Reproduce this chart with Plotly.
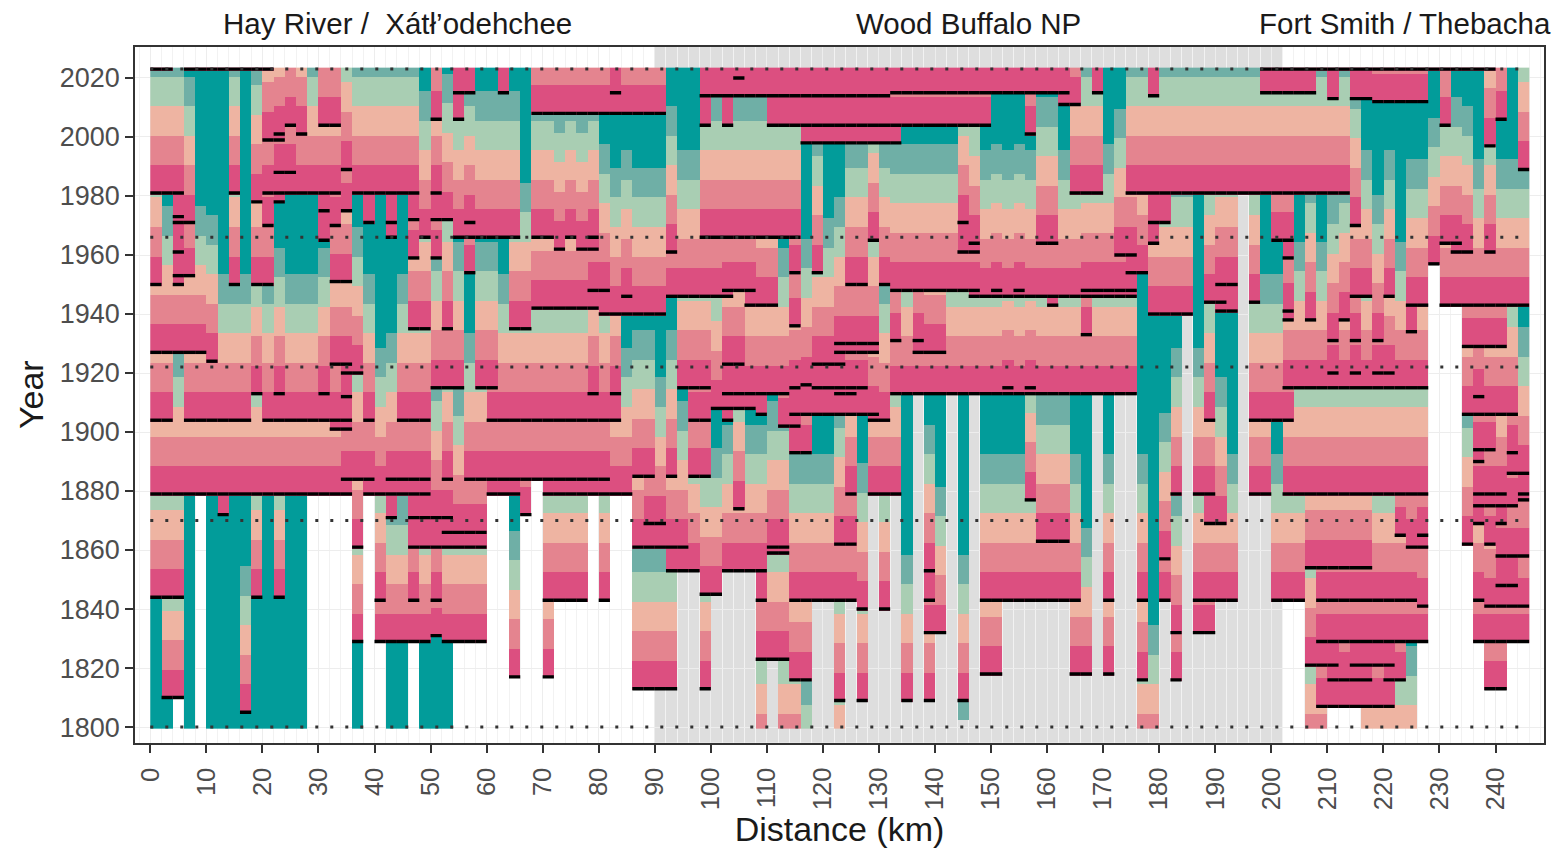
import numpy as np
import plotly.graph_objects as go

# ---- values ----
# fire_years[i]: recorded fire years of the 2-km segment starting at 2*i km
fire_years = [
 [2023,1981,1950,1927,1904,1879,1844],
 [2023,1981,1927,1904,1879,1844,1810],
 [1981,1973,1971,1961,1953,1950,1927,1879,1844,1810],
 [2023,1971,1953,1927,1904,1879],
 [2023,1927,1904,1879],
 [2023,1924,1904,1879],
 [2023,1904,1879,1872],
 [2023,1981,1950,1904,1879],
 [2023,1904,1879,1805],
 [2023,1978,1950,1913,1879,1844],
 [2023,1999,1981,1970,1950,1904,1879],
 [2001,1999,1988,1981,1978,1913,1904,1879,1844],
 [2004,1988,1981,1904,1879],
 [2001,1981,1904,1879],
 [1981,1904,1879],
 [2004,1981,1975,1965,1913,1904,1879],
 [2004,1981,1970,1951,1923,1904,1901,1879],
 [1989,1975,1951,1923,1920,1912,1904,1901,1884,1879],
 [1981,1920,1884,1861,1829],
 [1981,1971,1904,1884,1879],
 [1981,1879,1843,1829],
 [1981,1971,1966,1884,1879,1871,1829],
 [1981,1904,1884,1879,1829],
 [1981,1972,1959,1935,1904,1884,1879,1871,1861,1843,1829],
 [1966,1935,1904,1884,1879,1871,1861,1829],
 [2006,1981,1972,1959,1915,1871,1861,1843,1831],
 [1972,1935,1915,1884,1871,1866,1861,1829],
 [2015,2006,1966,1915,1866,1861,1829],
 [2015,1971,1966,1954,1884,1866,1861,1829],
 [1966,1915,1884,1866,1861,1829],
 [1966,1915,1904,1884,1879],
 [2015,1966,1904,1884,1879],
 [1966,1935,1904,1884,1879,1817],
 [1935,1904,1884,1872],
 [2008,1966,1942,1904,1884],
 [2008,1966,1942,1904,1884,1879,1843,1817],
 [2008,1962,1942,1904,1884,1879,1843],
 [2008,1966,1942,1904,1884,1879,1843],
 [2008,1962,1942,1904,1884,1879,1843],
 [2008,1966,1962,1948,1942,1913,1904,1884,1879],
 [2008,1948,1940,1904,1884,1879,1843],
 [2015,2008,1940,1913,1904,1879],
 [2008,1946,1940,1879],
 [2008,1940,1885,1861,1813],
 [2008,1940,1885,1869,1861,1813],
 [2008,1940,1869,1861,1813],
 [1961,1946,1885,1861,1853,1813],
 [1946,1915,1861,1853],
 [1946,1915,1904,1885,1853],
 [2014,2004,1966,1946,1915,1904,1885,1845,1813],
 [2014,1966,1946,1908,1845],
 [2014,2004,1966,1948,1946,1923,1913,1908,1904,1853],
 [2020,2014,1966,1948,1923,1913,1908,1874,1853],
 [2014,1966,1948,1943,1913,1908,1853],
 [2014,1966,1943,1913,1906,1853,1843,1823,1785],
 [2014,2004,1966,1943,1913,1861,1859,1823],
 [2014,2004,1966,1913,1902,1861,1859,1823,1785],
 [2014,2004,1966,1954,1936,1915,1906,1902,1893,1843,1816,1785],
 [2014,2004,1998,1916,1906,1893,1843,1816,1768],
 [2014,2004,1998,1954,1923,1915,1906,1843],
 [2014,2004,1998,1923,1915,1906,1843],
 [2014,2004,1998,1930,1927,1923,1915,1913,1906,1862,1843,1809,1778],
 [2014,2004,1998,1950,1930,1927,1915,1913,1906,1879,1862,1843],
 [2014,2004,1998,1950,1930,1927,1915,1906,1840,1809],
 [2014,2004,1998,1965,1930,1927,1906,1904,1879],
 [2014,2004,1998,1950,1904,1879,1840],
 [2015,2004,1998,1948,1931,1913,1879],
 [2015,2004,1948,1913,1809],
 [2015,2004,1948,1931,1927,1913],
 [2015,2004,1948,1927,1913,1853,1843,1832,1809],
 [2015,2004,1948,1927,1913,1832],
 [2015,2004,1948,1913],
 [2015,2004,1971,1961,1948,1913,1809,1762],
 [2015,2004,1964,1961,1948,1946,1913],
 [2015,2004,1946,1913,1843,1818],
 [2015,1948,1946,1913,1843,1818],
 [2015,1946,1915,1913,1843],
 [2015,1948,1946,1913,1843],
 [2015,2001,1946,1915,1913,1877,1843],
 [2015,1964,1946,1913,1863,1843],
 [2015,1964,1946,1943,1913,1863,1843],
 [2015,2011,1946,1913,1863,1843],
 [2011,1981,1946,1913,1843,1818],
 [1981,1948,1946,1933,1913,1818],
 [2015,1981,1948,1946,1913],
 [1948,1946,1913,1843,1818],
 [1960,1948,1946,1913],
 [1981,1960,1954,1948,1946,1913],
 [1981,1954,1843,1816,1785],
 [2014,1981,1971,1964,1940,1785],
 [1981,1971,1940,1857,1843],
 [1981,1940,1879,1832,1816],
 [1981,1940],
 [1981,1879,1843,1832],
 [1981,1944,1904,1879,1869,1843,1832],
 [1981,1950,1944,1941,1869,1843],
 [1981,1950,1941,1843],
 [1981],
 [1981,1944,1904,1879],
 [2023,2015,1981,1904,1879],
 [2023,2015,1981,1965,1904,1843],
 [2023,2015,1981,1965,1959,1941,1938,1915,1904,1879,1843],
 [2023,2015,1981,1915,1879,1843],
 [2023,2015,1981,1938,1915,1879,1854,1821,1785],
 [2023,1981,1915,1879,1854,1843,1829,1821,1807,1785],
 [2023,2013,1981,1931,1920,1915,1879,1854,1843,1829,1821,1816,1807],
 [2023,1981,1938,1915,1879,1854,1843,1829,1816,1807],
 [2023,2013,1970,1946,1931,1920,1915,1879,1854,1843,1829,1821,1816,1807],
 [2023,2013,1946,1915,1879,1854,1843,1829,1821,1816,1807,1778],
 [2023,2012,1931,1920,1915,1879,1843,1829,1821,1807,1778],
 [2023,2012,1946,1920,1915,1879,1843,1829,1821,1816,1807,1778],
 [2023,2012,1915,1879,1865,1843,1829,1816,1778],
 [2023,2012,1943,1934,1915,1879,1861,1843,1829,1778],
 [2023,2012,1943,1915,1879,1865,1861,1841,1829],
 [2023,1957],
 [2023,2004,1964,1943],
 [2023,1964,1961,1943],
 [2023,1961,1943,1929,1906,1862],
 [2023,1943,1929,1912,1906,1894,1890,1879,1875,1869,1843,1829],
 [2023,1997,1961,1943,1929,1906,1894,1879,1875,1862,1841,1829,1813],
 [2006,1943,1929,1906,1879,1875,1869,1858,1848,1841,1829,1813],
 [1943,1906,1893,1886,1875,1858,1848,1841,1829],
 [1989,1943,1886,1879,1877,1858,1841,1829],
]
# earliest year recorded in each segment
start_years = [
 1800,1800,1810,1800,1879,1800,1800,1800,1800,1800,
 1800,1800,1800,1800,1879,1879,1879,1879,1800,1879,
 1829,1800,1800,1829,1800,1800,1800,1829,1829,1829,
 1879,1879,1817,1872,1884,1817,1843,1843,1843,1879,
 1843,1879,1879,1813,1813,1813,1813,1853,1853,1813,
 1845,1853,1853,1853,1800,1823,1800,1800,1800,1843,
 1843,1800,1843,1809,1879,1840,1879,1809,1913,1809,
 1832,1913,1803,1913,1818,1818,1843,1843,1843,1843,
 1843,1843,1818,1818,1913,1818,1913,1913,1800,1800,
 1843,1816,1940,1832,1832,1843,1843,1981,1879,1879,
 1843,1843,1843,1800,1800,1807,1807,1807,1800,1800,
 1800,1800,1800,1829,1957,1943,1943,1862,1829,1813,
 1813,1829,1829,
]
dotted_years = [2023, 1966, 1922, 1870, 1800]
region_names = ["Hay River /  Xátł’odehchee", "Wood Buffalo NP", "Fort Smith / Thebacha"]
year_ticks = list(range(1800, 2021, 20))
km_ticks = list(range(0, 241, 10))
band_colors = ["#DC4F80", "#E4848F", "#EEB4A2", "#A9CEB3", "#6FAFA6", "#029C9A"]
PARK_KM = (90, 202)

# ---- geometry ----
W, H = 1556, 849
PL, PR, PT, PB = 135, 1544, 46.7, 742.7
X0, X1 = -2.73, 248.65
Y0, Y1 = 1794.7, 2030.6
STEP = 2

# ---- years since last fire, in 10-year bands ----
years = np.arange(1800, 2024)
km_centres = np.array([STEP * i + STEP / 2 for i in range(len(fire_years))])
z = np.full((len(years), len(fire_years)), np.nan)
line_x, line_y = [], []
for c, (fires, start) in enumerate(zip(fire_years, start_years)):
    for r, y in enumerate(years):
        if y < start:
            continue
        past = [f for f in fires if f <= y]
        z[r, c] = min((y - max(past)) // 10, 5) if past else 5
    for f in fires:
        if f >= start:
            line_x += [STEP * c, STEP * (c + 1), None]
            line_y += [f, f, None]

stops = []
for i, col in enumerate(band_colors):
    stops += [[i / 6, col], [(i + 1) / 6, col]]

fig = go.Figure()
fig.add_trace(go.Heatmap(
    x=km_centres, y=years, z=z, zmin=-0.5, zmax=5.5,
    colorscale=stops, showscale=False, hoverongaps=False,
))
fig.add_trace(go.Scatter(
    x=line_x, y=line_y, mode="lines", hoverinfo="skip", showlegend=False,
    line=dict(color="#000000", width=3.4),
))
for yr in dotted_years:
    fig.add_trace(go.Scatter(
        x=[0, 246], y=[yr, yr], mode="lines", hoverinfo="skip", showlegend=False,
        line=dict(color="#333333", width=3, dash="3px,12px"),
    ))

fig.add_shape(type="rect", xref="x", yref="y domain", x0=PARK_KM[0], x1=PARK_KM[1], y0=0, y1=1,
              fillcolor="rgba(190,190,190,0.5)", line_width=0, layer="below")

centres = [397, 968, 1405]
for name, cx in zip(region_names, centres):
    fig.add_annotation(x=cx / W, y=1 - 24 / H, xref="paper", yref="paper", text=name,
                       showarrow=False, font=dict(size=29.5, color="#1a1a1a"),
                       xanchor="center", yanchor="middle")

fig.update_xaxes(
    domain=[PL / W, PR / W], range=[X0, X1], tickmode="array", tickvals=km_ticks,
    ticktext=[str(k) for k in km_ticks], tickangle=-90,
    ticks="outside", ticklen=8, tickwidth=2, tickcolor="#333333",
    tickfont=dict(size=25.5, color="#4D4D4D"), ticklabelstandoff=5,
    showgrid=True, gridcolor="#EDEDED", gridwidth=1,
    minor=dict(showgrid=True, gridcolor="#F2F2F2", gridwidth=1, dtick=2, tick0=0, ticks=""),
    showline=True, linecolor="#333333", linewidth=1.6, mirror=True, zeroline=False,
    title=dict(text="Distance (km)", font=dict(size=34, color="#1a1a1a"), standoff=6),
)
fig.update_yaxes(
    domain=[1 - PB / H, 1 - PT / H], range=[Y0, Y1], tickmode="array", tickvals=year_ticks,
    ticktext=[str(k) for k in year_ticks],
    ticks="outside", ticklen=8, tickwidth=2, tickcolor="#333333",
    tickfont=dict(size=27, color="#4D4D4D"),
    showgrid=True, gridcolor="#EDEDED", gridwidth=1,
    showline=True, linecolor="#333333", linewidth=1.6, mirror=True, zeroline=False,
    title=dict(text="Year", font=dict(size=34, color="#1a1a1a"), standoff=6),
)
fig.update_layout(
    width=W, height=H, margin=dict(l=0, r=0, t=0, b=0, pad=0, autoexpand=False),
    paper_bgcolor="white", plot_bgcolor="white",
    font=dict(family="Liberation Sans, Arial, sans-serif"),
    showlegend=False,
)
fig.write_html("out.html", post_script="document.body.style.margin='0';",
               config={"displayModeBar": False})
